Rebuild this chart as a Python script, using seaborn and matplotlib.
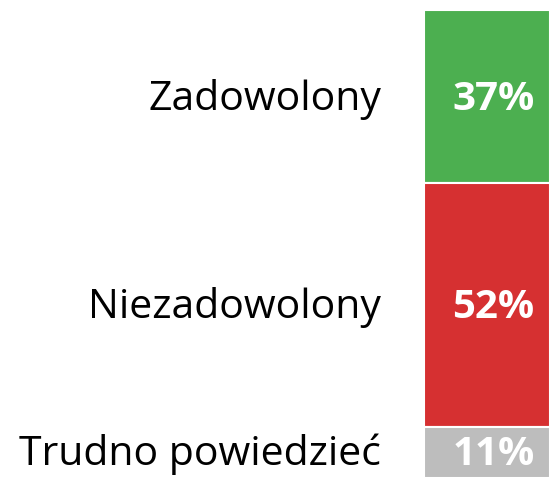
import matplotlib
import matplotlib.pyplot as plt
from matplotlib.transforms import offset_copy
import seaborn as sns

matplotlib.use('Agg')
sns.set_style("white")
plt.rcParams['font.family'] = ['Open Sans', 'DejaVu Sans']

categories = ['Zadowolony', 'Niezadowolony', 'Trudno powiedzieć']
values = [37, 52, 11]
colors = ['#4caf50', '#d63031', '#bdbdbd']

fig = plt.figure(figsize=(5.5, 4.78), dpi=100)
ax = fig.add_axes([424 / 550, 0, 126 / 550, 1 - 10 / 478])

# baseline sits roughly half a cap height below the segment middle
trans = offset_copy(ax.transData, fig=fig, y=-9.5, units='points')

bottom = 0
for cat, val, col in zip(categories, values, colors):
    sns.barplot(x=[0], y=[val], bottom=bottom, color=col, width=1,
                edgecolor='white', linewidth=1.5, saturation=1, ax=ax)
    mid = bottom + val / 2
    ax.text(0.05, mid, f'{val}%', ha='center', va='baseline', color='white',
            fontsize=29, fontweight='bold', transform=trans)
    ax.text(-0.84, mid, cat, ha='right', va='baseline', color='black',
            fontsize=29.5, clip_on=False, transform=trans)
    bottom += val

ax.set_xlim(-0.5, 0.5)
ax.set_ylim(100, 0)
ax.axis('off')

plt.savefig('out.png', dpi=100)
